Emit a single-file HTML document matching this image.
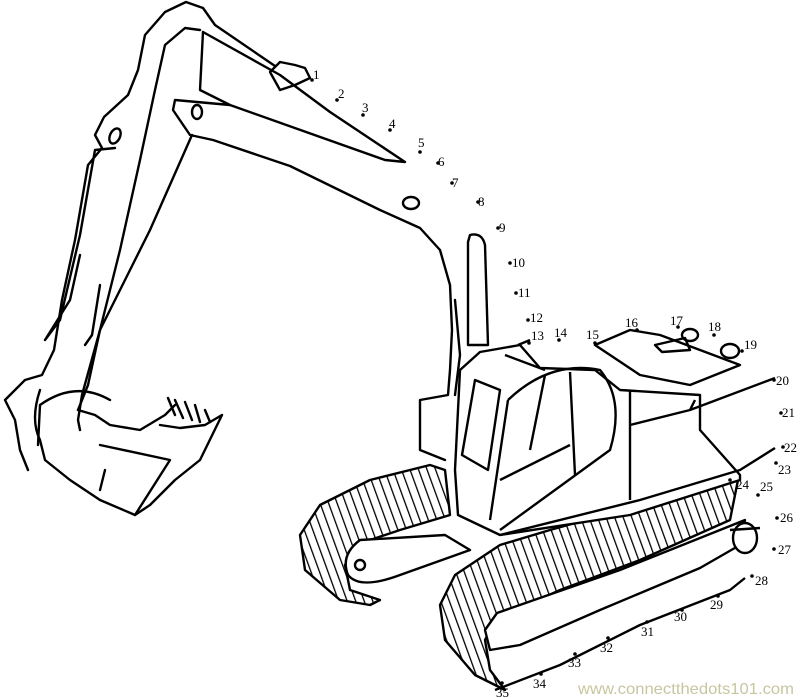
<!DOCTYPE html>
<html><head><style>
html,body{margin:0;padding:0;background:#fff;}
svg{display:block;}
text{font-family:"Liberation Serif",serif;font-size:13px;fill:#000;}
</style></head><body>
<svg width="800" height="698" viewBox="0 0 800 698" xmlns="http://www.w3.org/2000/svg">
<defs>
<pattern id="h" width="8" height="8" patternUnits="userSpaceOnUse" patternTransform="rotate(-20)">
<rect width="8" height="8" fill="#fff"/><line x1="0" y1="0" x2="0" y2="8" stroke="#000" stroke-width="2.6"/>
</pattern>
</defs>
<g fill="none" stroke="#000" stroke-width="2.4" stroke-linecap="round" stroke-linejoin="round">
<path d="M275,66 L215,25 L203,8 L186,2 L165,12 L145,35 L138,70 L128,95 L104,117 L95,135 L102,148 L88,165 L75,240 L62,300 L54,350 L42,375 L25,380 L5,400 L15,420 L20,450 L28,470"/>
<path d="M200,30 L185,28 L165,45 L155,90 L140,160 L120,250 L100,330 L82,395 L78,420 L80,430"/>
<path d="M192,135 L150,230 L100,330 L88,385 L78,410"/>
<path d="M115,148 L95,150 L80,235 L60,320 L45,340 L70,300 L80,255"/>
<ellipse cx="115" cy="136" rx="5" ry="8" transform="rotate(25 115 136)"/>
<path d="M100,285 L92,335 L85,345"/>
<path d="M203,32 L200,90 L230,105 L175,100 L173,110 L190,135 L213,140 L290,166 L380,210 L420,228 L440,250 L450,285 L452,330 L450,370 L448,395 L420,400 L420,450 L445,460"/>
<path d="M203,32 L280,75 L330,112 L405,162 L385,160 L230,105"/>
<path d="M270,72 L280,62 L295,65 L305,68 L310,78 L295,85 L280,90 Z"/>
<ellipse cx="197" cy="112" rx="5" ry="7"/>
<ellipse cx="411" cy="203" rx="8" ry="6"/>
<path d="M78,410 L95,415 L110,425 L140,430 L165,415 L175,405"/>
<path d="M40,390 Q30,420 40,440 L45,460 L70,480 L100,500 L135,515 L150,505 L175,480 L200,460 L222,415 L205,425 L180,428 L160,425"/>
<path d="M110,400 Q75,380 40,405 L38,445"/>
<path d="M100,445 L170,460 L135,515"/>
<path d="M175,415 L168,398 M183,418 L175,400 M192,420 L185,402 M200,422 L195,405 M210,422 L205,410"/>
<path d="M105,470 L100,490"/>
<path d="M468,242 L468,345 L488,345 L485,245 Q482,232 470,235 Z"/>
<path d="M455,300 L460,355 L455,395"/>
</g>
<g stroke="#000" stroke-width="2.4" stroke-linejoin="round">
<path fill="url(#h)" d="M430,465 L370,480 L320,505 L300,535 L305,570 L340,600 L370,605 L380,600 L350,590 L345,565 L355,545 L400,530 L450,515 L445,470 Z"/>
<path fill="url(#h)" d="M500,545 L455,575 L440,605 L445,640 L475,675 L505,690 L490,670 L485,640 L495,620 L560,590 L640,560 L730,520 L738,480 L640,505 L550,530 Z"/>
<path fill="#fff" d="M360,540 Q340,555 348,575 Q360,590 400,575 L470,550 L445,535 Z"/>
<path fill="#fff" d="M497,613 L485,630 L490,650 L520,645 L600,610 L700,568 L740,545 L745,520 L720,530 L620,570 Z"/>
<ellipse cx="745" cy="538" rx="12" ry="15" fill="#fff"/>
<path fill="none" d="M495,690 L560,665 L640,625 L730,590 L745,578"/>
<circle cx="360" cy="565" r="5" fill="#fff"/>
<path fill="#fff" d="M460,370 L455,470 L458,515 L500,535 L630,515 L740,480 L740,475 L700,430 L700,395 L620,390 L595,370 L540,368 L520,345 L480,352 Z"/>
<path fill="none" d="M475,380 L500,390 L488,470 L462,455 Z"/>
<path fill="none" d="M508,400 L490,520 M508,400 Q550,360 600,370 Q625,400 610,450 L500,530"/>
<path fill="none" d="M545,375 L530,450 M570,372 L575,475 M500,480 L570,445"/>
<path fill="none" d="M630,390 L630,500 M630,425 L690,410 L775,378 M690,410 L695,400"/>
<path fill="none" d="M500,535 L640,500 L740,470 L775,448"/>
<path fill="none" d="M595,345 L630,330 L660,335 L740,365 L690,385 L640,375 Z"/>
<path fill="none" d="M655,345 L685,338 L690,350 L662,352 Z"/>
<ellipse cx="690" cy="335" rx="8" ry="6" fill="none"/>
<ellipse cx="730" cy="351" rx="9" ry="7" fill="none"/>
<path fill="none" d="M518,345 L530,340 M505,355 L545,370"/>
<path fill="none" d="M730,530 L760,528"/>
</g>
<g fill="#000">
<circle cx="312" cy="80" r="1.8"/><circle cx="337" cy="100" r="1.8"/><circle cx="363" cy="115" r="1.8"/><circle cx="390" cy="130" r="1.8"/><circle cx="420" cy="152" r="1.8"/><circle cx="438" cy="163" r="1.8"/><circle cx="452" cy="183" r="1.8"/><circle cx="478" cy="202" r="1.8"/><circle cx="498" cy="228" r="1.8"/><circle cx="510" cy="263" r="1.8"/><circle cx="516" cy="293" r="1.8"/><circle cx="528" cy="320" r="1.8"/><circle cx="529" cy="343" r="1.8"/><circle cx="559" cy="340" r="1.8"/><circle cx="595" cy="343" r="1.8"/><circle cx="637" cy="330" r="1.8"/><circle cx="678" cy="327" r="1.8"/><circle cx="714" cy="335" r="1.8"/><circle cx="742" cy="351" r="1.8"/><circle cx="774" cy="380" r="1.8"/><circle cx="781" cy="413" r="1.8"/><circle cx="783" cy="447" r="1.8"/><circle cx="776" cy="463" r="1.8"/><circle cx="730" cy="480" r="1.8"/><circle cx="758" cy="495" r="1.8"/><circle cx="777" cy="518" r="1.8"/><circle cx="774" cy="549" r="1.8"/><circle cx="752" cy="576" r="1.8"/><circle cx="718" cy="596" r="1.8"/><circle cx="682" cy="610" r="1.8"/><circle cx="647" cy="622" r="1.8"/><circle cx="608" cy="638" r="1.8"/><circle cx="575" cy="654" r="1.8"/><circle cx="541" cy="674" r="1.8"/><circle cx="502" cy="683" r="1.8"/>
</g>
<g>
<text x="313" y="79">1</text><text x="338" y="98">2</text><text x="362" y="112">3</text><text x="389" y="128">4</text><text x="418" y="147">5</text><text x="438" y="166">6</text><text x="452" y="187">7</text><text x="478" y="206">8</text><text x="499" y="232">9</text><text x="512" y="267">10</text><text x="518" y="297">11</text><text x="530" y="322">12</text><text x="531" y="340">13</text><text x="554" y="337">14</text><text x="586" y="339">15</text><text x="625" y="327">16</text><text x="670" y="325">17</text><text x="708" y="331">18</text><text x="744" y="349">19</text><text x="776" y="385">20</text><text x="782" y="417">21</text><text x="784" y="452">22</text><text x="778" y="474">23</text><text x="736" y="489">24</text><text x="760" y="491">25</text><text x="780" y="522">26</text><text x="778" y="554">27</text><text x="755" y="585">28</text><text x="710" y="609">29</text><text x="674" y="621">30</text><text x="641" y="636">31</text><text x="600" y="652">32</text><text x="568" y="667">33</text><text x="533" y="688">34</text><text x="496" y="697">35</text>
</g>
<text x="578" y="694" textLength="216" lengthAdjust="spacingAndGlyphs" style="font-family:'Liberation Sans',sans-serif;font-size:16px;fill:#c8c6a0">www.connectthedots101.com</text>
</svg>
</body></html>
